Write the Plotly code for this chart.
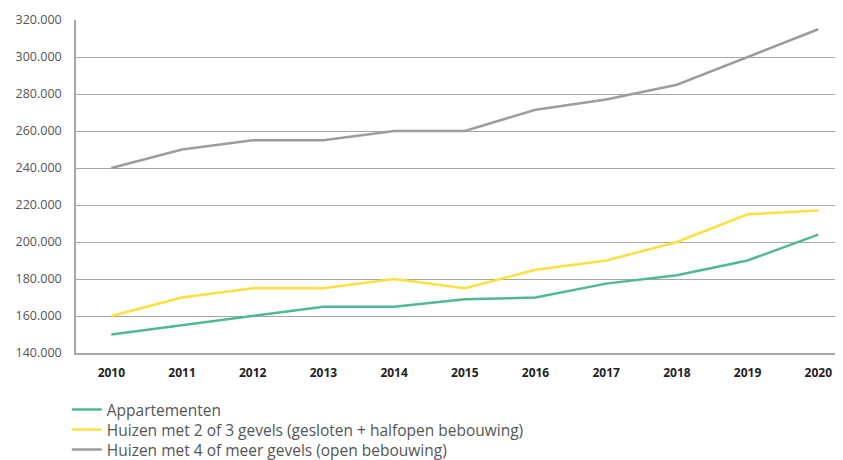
import plotly.graph_objects as go

years = ["2010", "2011", "2012", "2013", "2014", "2015", "2016", "2017", "2018", "2019", "2020"]
appartementen = [150000, 155000, 160000, 165000, 165000, 169000, 170000, 177500, 182000, 190000, 204000]
huizen_2_3 = [160000, 170000, 175000, 175000, 180000, 175000, 185000, 190000, 200000, 215000, 217000]
huizen_4 = [240000, 250000, 255000, 255000, 260000, 260000, 271500, 277000, 285000, 300000, 315000]
names = [
    "Appartementen",
    "Huizen met 2 of 3 gevels (gesloten + halfopen bebouwing)",
    "Huizen met 4 of meer gevels (open bebouwing)",
]
colors = ["#4fb98f", "#fde03f", "#9d9d9d"]
legend_ids = ["legend", "legend2", "legend3"]
legend_y = [-0.171, -0.231, -0.291]

fig = go.Figure()
for vals, name, col, lid in zip([appartementen, huizen_2_3, huizen_4], names, colors, legend_ids):
    fig.add_trace(go.Scatter(x=years, y=vals, name=name, mode="lines", legend=lid,
                             line=dict(color=col, width=2.5)))

leg_common = dict(orientation="v", x=-0.012, xanchor="left", yanchor="middle",
                  font=dict(size=15.5, color="#555555"), itemwidth=30,
                  bgcolor="rgba(0,0,0,0)")
fig.update_layout(
    width=835, height=452,
    margin=dict(l=68, r=0, t=12, b=107, autoexpand=False),
    paper_bgcolor="white", plot_bgcolor="white",
    separators=",.",
    font=dict(family="Open Sans, sans-serif", color="#555555"),
    showlegend=True,
    legend=dict(y=legend_y[0], **leg_common),
    legend2=dict(y=legend_y[1], **leg_common),
    legend3=dict(y=legend_y[2], **leg_common),
)
fig.update_xaxes(
    type="category", range=[-0.5, 10.35],
    showgrid=False, showline=True, linecolor="#a6a6a6", linewidth=1.5,
    ticks="", ticklabelstandoff=8, tickangle=0,
    tickfont=dict(size=12, color="#222222", family="Open Sans, sans-serif", weight="bold"),
)
fig.update_yaxes(
    range=[140000, 320000], dtick=20000, tickformat=",.0f",
    showgrid=True, gridcolor="#a6a6a6", gridwidth=1,
    showline=True, linecolor="#a6a6a6", linewidth=1.5,
    zeroline=False, ticks="", ticklabelstandoff=10,
    tickfont=dict(size=12.5, color="#555555"),
)

fig.write_html("out.html")
